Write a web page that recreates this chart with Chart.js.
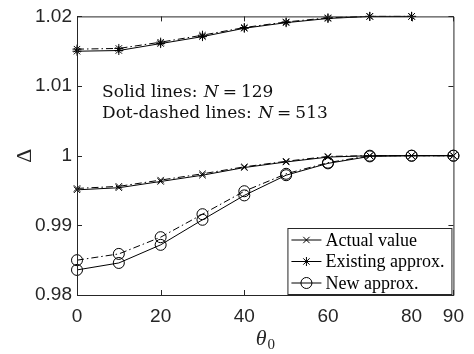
<!DOCTYPE html>
<html lang="en">
<head>
<meta charset="UTF-8">
<title>Delta vs theta0</title>
<script src="https://cdn.jsdelivr.net/npm/chart.js"></script>
<style>
  html, body { margin: 0; padding: 0; background: #fff; }
  #wrap { width: 474px; height: 354px; }
</style>
</head>
<body>
<div id="wrap"><canvas id="chart" width="474" height="354"></canvas></div>
<script>
// theta0 (degrees)
const theta = [0, 10, 20, 30, 40, 50, 60, 70, 80, 90];

// solid lines: N = 129
const actual129   = [0.9951, 0.9954, 0.9963, 0.9972, 0.9983, 0.9991, 0.9998, 1.0000, 1.0000, 1.0000];
const existing129 = [1.0150, 1.0151, 1.0161, 1.0171, 1.0183, 1.0191, 1.0197, 1.0200, 1.0200];
const newApprox129 = [0.9836, 0.9846, 0.9872, 0.9908, 0.9943, 0.9972, 0.9989, 0.9999, 1.0000, 1.0000];

// dot-dashed lines: N = 513
const actual513   = [0.9953, 0.9956, 0.9965, 0.9974, 0.9984, 0.9992, 0.9999, 1.0000, 1.0000, 1.0000];
const existing513 = [1.0153, 1.0154, 1.0163, 1.0173, 1.0184, 1.0192, 1.0198, 1.0200, 1.0200];
const newApprox513 = [0.9850, 0.9859, 0.9883, 0.9916, 0.9949, 0.9974, 0.9990, 1.0000, 1.0000, 1.0000];

const xTicks = [0, 20, 40, 60, 80, 90];
const yTicks = [0.98, 0.99, 1, 1.01, 1.02];

const INK = '#262626';
const DOTDASH = [7, 3, 1.5, 3];

function pts(vals) {
  return vals.map((v, i) => ({ x: theta[i], y: v }));
}

function series(label, vals, marker, radius, dashed) {
  return {
    label: label,
    data: pts(vals),
    borderColor: '#000',
    borderWidth: 1,
    borderDash: dashed ? DOTDASH : [],
    pointStyle: marker,
    pointRadius: radius,
    pointBorderWidth: 1,
    pointBorderColor: '#000',
    pointBackgroundColor: 'rgba(0,0,0,0)',
    tension: 0,
    clip: false,
    inLegend: !dashed
  };
}

// ticks inward on all four sides + box
const axesBox = {
  id: 'axesBox',
  afterDatasetsDraw(chart) {
    const { ctx, chartArea: a, scales } = chart;
    ctx.save();
    ctx.strokeStyle = INK;
    ctx.lineWidth = 1;
    ctx.beginPath();
    ctx.rect(a.left + 0.5, a.top + 0.5, a.right - a.left, a.bottom - a.top);
    xTicks.forEach(v => {
      const px = Math.round(scales.x.getPixelForValue(v)) + 0.5;
      ctx.moveTo(px, a.bottom); ctx.lineTo(px, a.bottom - 5);
      ctx.moveTo(px, a.top); ctx.lineTo(px, a.top + 5);
    });
    yTicks.forEach(v => {
      const py = Math.round(scales.y.getPixelForValue(v)) + 0.5;
      ctx.moveTo(a.left, py); ctx.lineTo(a.left + 5, py);
      ctx.moveTo(a.right, py); ctx.lineTo(a.right - 5, py);
    });
    ctx.stroke();
    ctx.restore();
  }
};

// text runs: [text, italic, extra gap after]
function drawRuns(ctx, runs, x, y, size) {
  runs.forEach(r => {
    ctx.font = (r[1] ? 'italic ' : '') + size + 'px "DejaVu Serif"';
    ctx.fillText(r[0], x, y);
    x += ctx.measureText(r[0]).width + (r[2] || 0);
  });
}

const extras = {
  id: 'extras',
  afterDraw(chart) {
    const { ctx, chartArea: a } = chart;
    ctx.save();
    ctx.fillStyle = '#111';
    ctx.textBaseline = 'alphabetic';
    ctx.textAlign = 'left';

    // note about N
    drawRuns(ctx, [['Solid lines: ', false, 1], ['N', true, 4], ['=', false, 4], ['129', false]], 102, 97, 17);
    drawRuns(ctx, [['Dot-dashed lines: ', false, 1], ['N', true, 4], ['=', false, 4], ['513', false]], 102, 118, 17);

    // axis titles
    ctx.fillStyle = INK;
    ctx.font = 'italic 22px "Liberation Serif"';
    const cx = (a.left + a.right) / 2;
    const tw = ctx.measureText('θ').width;
    ctx.fillText('θ', cx - tw / 2 - 4, 345);
    ctx.font = '15px "Liberation Serif"';
    ctx.fillText('0', cx - 4 + tw / 2 + 1, 349);

    ctx.save();
    ctx.translate(25, (a.top + a.bottom) / 2);
    ctx.rotate(-Math.PI / 2);
    ctx.textAlign = 'center';
    ctx.textBaseline = 'middle';
    ctx.font = '22px "Liberation Serif"';
    ctx.fillText('Δ', 0, 0);
    ctx.restore();

    // legend box
    const bw = 164, bh = 66;
    const bx = a.right - 2 - bw, by = a.bottom - 1 - bh;
    ctx.fillStyle = '#fff';
    ctx.fillRect(bx, by, bw, bh);
    ctx.strokeStyle = INK;
    ctx.lineWidth = 1;
    ctx.strokeRect(bx + 0.5, by + 0.5, bw, bh);

    const items = chart.data.datasets.filter(d => d.inLegend);
    items.forEach((d, i) => {
      const ry = by + 12 + i * 21.5;
      ctx.strokeStyle = '#000';
      ctx.beginPath();
      ctx.moveTo(bx + 4, ry); ctx.lineTo(bx + 34, ry);
      ctx.stroke();
      ctx.fillStyle = 'rgba(0,0,0,0)';
      Chart.helpers.drawPoint(ctx, {
        pointStyle: d.pointStyle, radius: d.pointRadius, borderWidth: 1, rotation: 0
      }, bx + 19, ry);
      ctx.fillStyle = '#000';
      ctx.font = '18px "Liberation Serif"';
      ctx.textBaseline = 'middle';
      ctx.fillText(d.label, bx + 38, ry + 1);
    });
    ctx.restore();
  }
};

new Chart(document.getElementById('chart'), {
  type: 'line',
  data: {
    datasets: [
      series('Actual value', actual129, 'crossRot', 4.5, false),
      series('Existing approx.', existing129, 'star', 4.5, false),
      series('New approx.', newApprox129, 'circle', 5.5, false),
      series('Actual value (N=513)', actual513, 'crossRot', 4.5, true),
      series('Existing approx. (N=513)', existing513, 'star', 4.5, true),
      series('New approx. (N=513)', newApprox513, 'circle', 5.5, true)
    ]
  },
  options: {
    responsive: false,
    animation: false,
    layout: { padding: { top: 10, right: 14, left: 0, bottom: 0 } },
    plugins: { legend: { display: false }, tooltip: { enabled: false } },
    scales: {
      x: {
        type: 'linear', min: 0, max: 90,
        afterBuildTicks: s => { s.ticks = xTicks.map(v => ({ value: v })); },
        afterFit: s => { s.height = 59; },
        grid: { display: false, drawTicks: false },
        border: { display: false },
        ticks: {
          autoSkip: false, maxRotation: 0, padding: 10, color: INK,
          font: { family: 'Liberation Sans', size: 19 },
          callback: v => String(v)
        }
      },
      y: {
        type: 'linear', min: 0.98, max: 1.02,
        afterBuildTicks: s => { s.ticks = yTicks.map(v => ({ value: v })); },
        afterFit: s => { s.width = 77; },
        grid: { display: false, drawTicks: false },
        border: { display: false },
        ticks: {
          padding: 5, color: INK,
          font: { family: 'Liberation Sans', size: 19 },
          callback: v => String(parseFloat(v.toFixed(2)))
        }
      }
    }
  },
  plugins: [axesBox, extras]
});
</script>
</body>
</html>
